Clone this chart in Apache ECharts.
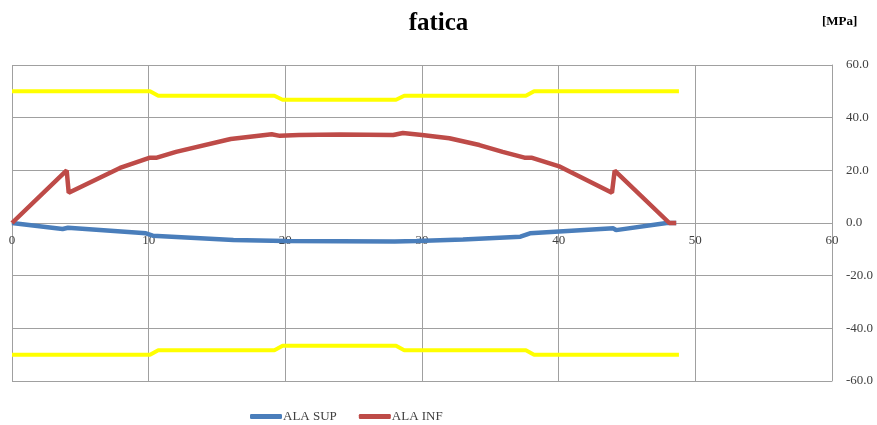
<!DOCTYPE html>
<html>
<head>
<meta charset="utf-8">
<script src="https://cdn.jsdelivr.net/npm/echarts@6/dist/echarts.min.js"></script>
<style>
  html, body { margin: 0; padding: 0; background: #fff; }
  #chart { width: 877px; height: 425px; }
</style>
</head>
<body>
<div id="chart"></div>
<script>
// dati
var supX = [0, 3.7, 4.1, 9.8, 10.3, 16.2, 20, 28, 29.6, 33, 37.2, 37.9, 44, 44.2, 47.9, 48.6];
var supY = [0, -2.3, -1.8, -3.9, -4.8, -6.5, -6.8, -7.0, -6.8, -6.3, -5.2, -3.9, -2.0, -2.7, 0, 0];

var infX = [0, 4.0, 4.15, 7.9, 10.1, 10.6, 12, 16, 19, 19.6, 21, 24, 27.9, 28.6, 30, 32, 34.2, 35.9, 37.5, 38, 40.1, 43.9, 44.1, 48.1, 48.6];
var infY = [0, 20, 11.5, 20.9, 24.8, 24.8, 27, 31.9, 33.7, 33.1, 33.4, 33.6, 33.4, 34.2, 33.4, 32.2, 29.6, 27, 24.8, 24.8, 21.4, 11.5, 19.9, 0, 0];

var limX = [0, 10.1, 10.7, 19.2, 19.8, 28.1, 28.7, 37.6, 38.2, 48.8];
var limSupY = [50, 50, 48.3, 48.3, 46.8, 46.8, 48.3, 48.3, 50, 50];
var limInfY = [-50, -50, -48.3, -48.3, -46.6, -46.6, -48.3, -48.3, -50, -50];

function coppie(xs, ys) {
    return xs.map(function (x, i) { return [x, ys[i]]; });
}

var font = 'Liberation Serif';
var grigio = '#a0a0a0';

var myChart = echarts.init(document.getElementById('chart'));
myChart.setOption({
    animation: false,
    title: {
        text: 'fatica',
        left: 'center',
        top: 6,
        textStyle: { fontFamily: font, fontSize: 25, fontWeight: 'bold', color: '#000' }
    },
    graphic: [{
        type: 'text',
        left: 822,
        top: 15,
        style: { text: '[MPa]', font: 'bold 13px "Liberation Serif"', fill: '#000' }
    }],
    legend: {
        data: ['ALA SUP', 'ALA INF'],
        left: 245,
        top: 405,
        itemWidth: 32,
        itemHeight: 5,
        itemGap: 22,
        icon: 'roundRect',
        textStyle: { fontFamily: font, fontSize: 13, color: '#404040', padding: [0, 0, 0, -4] }
    },
    grid: { left: 12, right: 45, top: 65, bottom: 44 },
    xAxis: {
        type: 'value',
        min: 0, max: 60, interval: 10,
        offset: -158, // asse sullo zero
        z: 0,
        axisLine: { onZero: false, lineStyle: { color: grigio } },
        axisTick: { show: false },
        axisLabel: { margin: 11, fontFamily: font, fontSize: 13, color: '#404040' },
        splitLine: { show: true, lineStyle: { color: grigio, width: 1 } }
    },
    yAxis: {
        type: 'value',
        position: 'right',
        min: -60, max: 60, interval: 20,
        axisLine: { show: true, onZero: false, lineStyle: { color: grigio } },
        axisTick: { show: false },
        axisLabel: {
            margin: 14, fontFamily: font, fontSize: 13, color: '#404040',
            formatter: function (v) { return v.toFixed(1); }
        },
        splitLine: { show: true, lineStyle: { color: grigio, width: 1 } }
    },
    series: [
        {
            name: 'lim sup', type: 'line', data: coppie(limX, limSupY),
            symbol: 'none', lineStyle: { color: '#ffff00', width: 4 }, itemStyle: { color: '#ffff00' }
        },
        {
            name: 'lim inf', type: 'line', data: coppie(limX, limInfY),
            symbol: 'none', lineStyle: { color: '#ffff00', width: 4 }, itemStyle: { color: '#ffff00' }
        },
        {
            name: 'ALA SUP', type: 'line', data: coppie(supX, supY),
            symbol: 'none', lineStyle: { color: '#4a7ebb', width: 4.5 }, itemStyle: { color: '#4a7ebb' }
        },
        {
            name: 'ALA INF', type: 'line', data: coppie(infX, infY),
            symbol: 'none', lineStyle: { color: '#be4b48', width: 4.5 }, itemStyle: { color: '#be4b48' }
        }
    ]
});
</script>
</body>
</html>
